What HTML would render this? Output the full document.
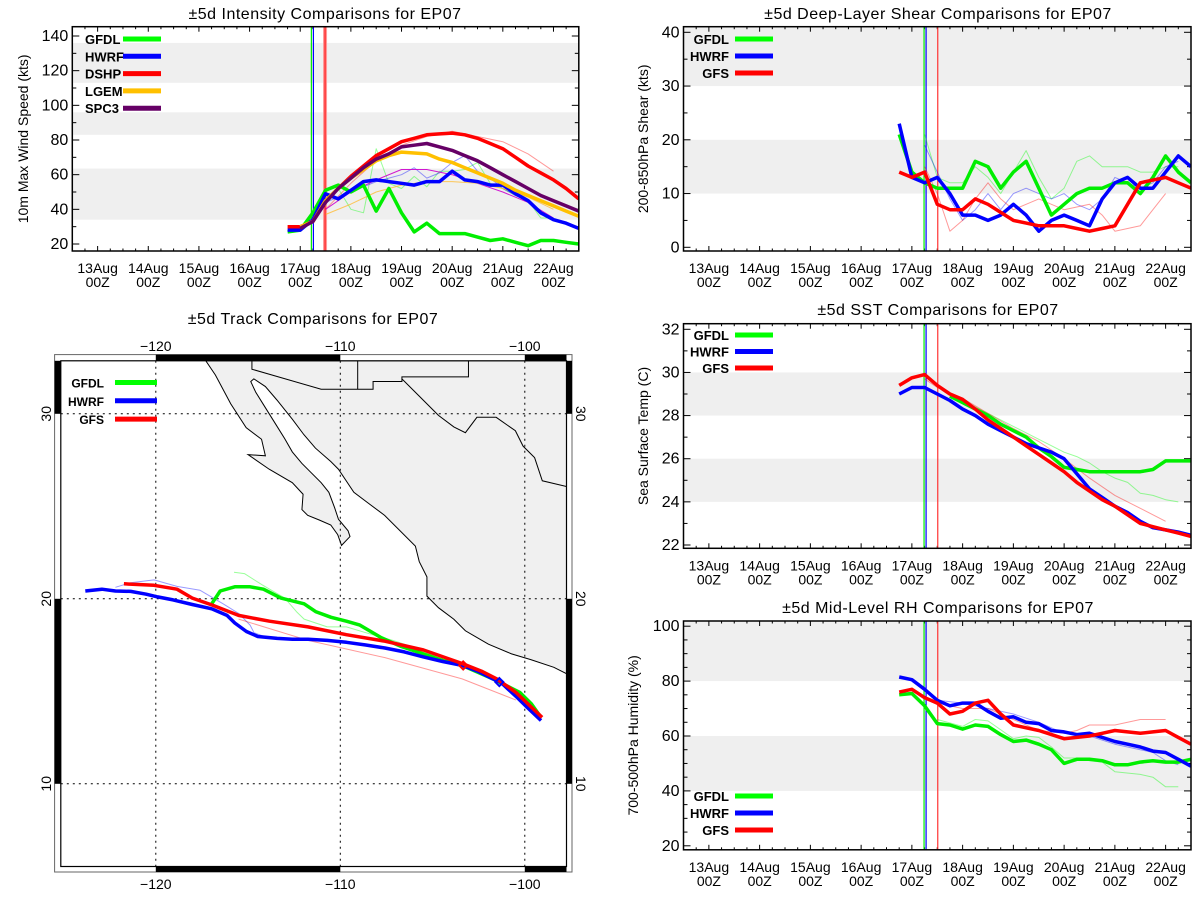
<!DOCTYPE html>
<html><head><meta charset="utf-8">
<style>
html,body{margin:0;padding:0;background:#fff;}
svg{display:block;font-family:"Liberation Sans",sans-serif;}
</style></head>
<body>
<svg id="fig" width="1200" height="900" viewBox="0 0 1200 900" xmlns="http://www.w3.org/2000/svg">
<rect width="1200" height="900" fill="#fff"/>
</svg>
<script>
// ---------- shared time axis ----------
const dayTicks = [13,14,15,16,17,18,19,20,21,22];
const dayLabels = ["13Aug","14Aug","15Aug","16Aug","17Aug","18Aug","19Aug","20Aug","21Aug","22Aug"];
const T = [16.75,17,17.25,17.5,17.75,18,18.25,18.5,18.75,19,19.25,19.5,19.75,20,20.25,20.5,20.75,21,21.25,21.5,21.75,22,22.25,22.5];
const T17 = [17,17.25,17.5,17.75,18,18.25,18.5,18.75,19,19.25,19.5,19.75,20,20.25,20.5,20.75,21,21.25,21.5,21.75,22,22.25,22.5];

// ---------- intensity ----------
const intGFDL = [27,28,38,51,54,50,54,39,52,38,27,32,26,26,26,24,22,23,21,19,22,22,21,20];
const intHWRF = [28,28,34,49,46,51,56,57,56,55,54,56,56,62,57,56,54,54,49,45,38,34,32,29];
const intDSHP = [30,30,33,45,52,59,65,71,75,79,81,83,83.5,84,83,81,78,75,70,65,61,57,52,46];
const intLGEM = [30,33,45,52,58,63,68,71,73,72.5,72,69,67,64,61,58,55,51,48,45,42,39,36];
const intSPC3 = [29,33,44,52,58,64,69,72,76,77,78,76,74,71,68,64,60,56,52,48,45,42,39];
const intPrevT = [17.25,17.5,17.75,18,18.25,18.5,18.75,19,19.25,19.5,19.75,20,20.25,20.5,20.75,21,21.25,21.5,21.75,22];
const intPrevGFDL = [38,45,52,40,38,75,55,52,59,53,62,62,63,67,55,52,48,45,35,35];
const intPrevHWRF = [36,44,47,50,53,56,58,60,64,58,61,67,71,62,58,52,48,45,37,35];
const intPrevDSHPT = [17.5,18,18.5,19,19.5,20,20.5,21,21.5,22];
const intPrevDSHP = [40,55,68,77,82,85,82,79,72,62];
const intPrevSPC3 = [40,50,57,63,63,60,55,50,44,35];
const intPrevLGEM = [37,43,50,54,56,56,55,52,47,40];

// ---------- shear ----------
const shrGFDL = [21,14,12,11,11,11,16,15,11,14,16,11,6,8,10,11,11,12,12,10,13,17,14,12];
const shrHWRF = [23,13,12,13,10,6,6,5,6,8,6,3,5,6,5,4,9,12,13,11,11,14,17,15];
const shrGFS = [14,13,14,8,7,7,9,8,6.5,5,4.5,4,4,4,3.5,3,3.5,4,8,12,12.5,13,12,11];
const shrPrevT = [17.25,17.5,17.75,18,18.25,18.5,18.75,19,19.25,19.5,19.75,20,20.25,20.5,20.75,21,21.25,21.5,21.75,22,22.25];
const shrPrevGFDL = [21,13,12,12,15,13,10,14,18,13,9,11,16,17,15,15,15,14,14,15,15];
const shrPrevHWRF = [19,14,9,5,7,10,7,10,11,10,9,10,8,7,9,13,12,11,12,15,16];
const shrPrevGFS = [15,10,3,5,9,12,9,7,8,9,8,7,7.5,8,6,3,3.5,4,7,10,null];

// ---------- SST ----------
const sstGFS = [29.4,29.75,29.9,29.4,29.0,28.75,28.3,27.8,27.4,27.0,26.6,26.2,25.8,25.4,24.9,24.5,24.1,23.8,23.4,23.0,22.85,22.7,22.55,22.4];
const sstHWRF = [29.0,29.3,29.3,29.0,28.7,28.3,28.0,27.6,27.3,27.0,26.7,26.5,26.3,26.0,25.3,24.6,24.2,23.8,23.5,23.1,22.8,22.7,22.6,22.45];
const sstGFDLT = [17.75,18,18.25,18.5,18.75,19,19.25,19.5,19.75,20,20.25,20.5,20.75,21,21.25,21.5,21.75,22,22.25,22.5];
const sstGFDL = [28.9,28.6,28.3,28.0,27.6,27.3,27.0,26.5,26.1,25.6,25.5,25.4,25.4,25.4,25.4,25.4,25.5,25.9,25.9,25.9];
const sstPrevT = [17.5,18,18.5,19,19.5,20,20.25,20.5,20.75,21,21.25,21.5,21.75,22,22.25];
const sstPrevGFDL = [29.4,28.7,28.1,27.5,26.9,26.3,26.1,25.8,25.4,25.1,24.9,24.4,24.3,24.1,24.0];
const sstPrevGFST = [17.25,17.5,18,18.5,19,19.5,20,20.5,21,21.5,22];
const sstPrevGFS = [29.7,29.3,28.8,28.1,27.4,26.8,26.0,25.1,24.3,23.7,23.1];

// ---------- RH ----------
const rhGFDL = [75,75.5,71,64.5,64,62.5,64,63.5,60.5,58,58.5,57,55,50,51.5,51.5,51,49.5,49.5,50.5,51,50.5,50.5,51.5];
const rhHWRF = [81.5,80.5,77,73,71,72,72,69,66.5,67,65,64.5,62,61.5,60.5,61,59.5,58,57,56,54.5,54,51.5,49];
const rhGFS = [76,77,74,72,68,69,72,73,68,64,63,62,60.5,59,59.5,60,61,62,61.5,61,61.5,62,59.5,57];
const rhPrevT = [17.5,18,18.25,18.5,19,19.25,19.5,19.75,20,20.25,20.5,20.75,21,21.5,21.75,22,22.25];
const rhPrevGFDL = [66,63.5,66,65.5,59,60,59.5,56,52,52,51,50.5,47,46,45,41.5,41.5];
const rhPrevGFST = [17.5,18,18.5,19,19.5,20,20.25,20.5,21,21.5,22];
const rhPrevGFS = [72,70,70,66,62,61,62,64,64,66,66];
const rhPrevHWRFT = [17.5,18,18.5,19,19.5,20,20.5,21,21.5,21.75,22,22.25];
const rhPrevHWRF = [73,72,70,68,65,61,60,57,55,54,51,49.5];

// ---------- tracks (lon, lat) ----------
const trkHWRFLon = [-123.82,-122.92,-122.19,-121.36,-120.52,-119.90,-119.06,-118.02,-116.97,-116.14,-115.72,-115.09,-114.47,-113.42,-112.59,-111.75,-110.71,-109.67,-108.62,-107.58,-106.53,-105.49,-104.45,-103.40,-102.57,-101.73,-101.32,-100.48,-99.85,-99.12];
const trkHWRFLat = [20.42,20.52,20.42,20.40,20.25,20.10,19.94,19.69,19.46,19.10,18.69,18.23,17.96,17.86,17.81,17.81,17.75,17.65,17.50,17.34,17.13,16.86,16.61,16.40,16.09,15.67,15.50,14.73,14.11,13.42];
const trkGFSLon = [-121.73,-120.10,-118.85,-118.02,-116.97,-115.51,-113.84,-111.75,-109.67,-107.58,-105.49,-103.40,-102.36,-101.52,-100.48,-99.06];
const trkGFSLat = [20.81,20.73,20.52,20.04,19.67,19.10,18.79,18.48,18.06,17.71,17.23,16.50,16.09,15.67,14.94,13.59];
const trkGFDLLon = [-116.97,-116.51,-115.72,-114.89,-114.16,-113.22,-111.96,-111.34,-110.50,-109.67,-108.94,-107.79,-106.74,-105.49,-104.45,-103.40,-101.73,-100.27,-99.64,-99.12];
const trkGFDLLat = [19.73,20.42,20.65,20.65,20.52,20.04,19.73,19.31,19.00,18.79,18.58,17.90,17.44,17.02,16.67,16.40,15.67,14.94,14.32,13.59];
const trkPrevGFDLLon = [-115.76,-115.20,-114.26,-113.01,-112.38,-111.96,-110.71,-109.67,-108.62,-107.16,-105.91,-104.87];
const trkPrevGFDLLat = [21.44,21.36,20.77,20.04,19.31,18.90,18.48,18.48,18.17,17.75,17.34,16.92];
const trkPrevHWRFLon = [-122.19,-121.36,-120.10,-118.85,-117.60,-116.35,-115.51,-114.89,-114.68,-113.84,-111.75];
const trkPrevHWRFLat = [20.62,20.87,21.02,20.67,20.46,19.73,19.21,18.58,18.17,17.86,17.86];
const trkPrevGFSLon = [-115.51,-111.75,-107.58,-103.40,-100.48];
const trkPrevGFSLat = [18.90,17.75,16.82,15.67,14.53];

const NS = "http://www.w3.org/2000/svg";
const fig = document.getElementById("fig");
function el(tag, attrs, parent){
  const e = document.createElementNS(NS, tag);
  for (const k in attrs) e.setAttribute(k, attrs[k]);
  (parent||fig).appendChild(e);
  return e;
}
function txt(s, attrs, parent){ const e = el("text", attrs, parent); e.textContent = s; return e; }

function chart(c){
  const g = el("g", {});
  
  
  const xs = d => c.x0 + (d - 12.5) / 10 * (c.x1 - c.x0);
  const ys = v => c.py0 - (v - c.v0) * c.ppu;
  c.bands.forEach(b => {
    const top = Math.max(ys(b[1]), c.y0), bot = Math.min(ys(b[0]), c.y1);
    const r = el("rect", {x:c.x0, y:top, width:c.x1-c.x0, height:bot-top, fill:"#efefef"}, g);
    
    
  });
  for (let d = 12.5; d <= 22.5001; d += 0.25){
    const major = Math.abs(d - Math.round(d)) < 1e-6;
    const L = major ? 5 : 2.5;
    el("line", {x1:xs(d), x2:xs(d), y1:c.y1, y2:c.y1-L, stroke:"#000", "stroke-width":1}, g);
    el("line", {x1:xs(d), x2:xs(d), y1:c.y0, y2:c.y0+L, stroke:"#000", "stroke-width":1}, g);
  }
  dayTicks.forEach((d,i) => {
    const a = txt(dayLabels[i], {x:xs(d), y:c.y1+22, "text-anchor":"middle", "font-size":14}, g);
    
    
    txt("00Z", {x:xs(d), y:c.y1+36, "text-anchor":"middle", "font-size":14}, g);
  });
  for (let v = c.tmin; v <= c.tmax + 1e-6; v += c.minor){
    const major = Math.abs(((v - c.tmin) / c.major) - Math.round((v - c.tmin) / c.major)) < 1e-6;
    const L = major ? 7 : 4;
    const yy = ys(v);
    if (yy < c.y0 - 0.5 || yy > c.y1 + 0.5) continue;
    el("line", {x1:c.x0, x2:c.x0+L, y1:yy, y2:yy, stroke:"#000"}, g);
    el("line", {x1:c.x1, x2:c.x1-L, y1:yy, y2:yy, stroke:"#000"}, g);
    if (major){
      const a = txt(String(v), {x:c.x0-4, y:yy+5, "text-anchor":"end", "font-size":16}, g);
      
      
    }
  }
  c.vlines.forEach(v => {
    el("line", {x1:xs(v[0]), x2:xs(v[0]), y1:c.y0, y2:c.y1, stroke:v[1], "stroke-width":v[2], opacity:v[3]}, g);
  });
  const sg = el("g", {"clip-path":"url(#clip-"+c.name+")"}, g);
  const cp = el("clipPath", {id:"clip-"+c.name}, g);
  el("rect", {x:c.x0, y:c.y0, width:c.x1-c.x0, height:c.y1-c.y0}, cp);
  c.series.forEach(s => {
    let d = "";
    s.t.forEach((t,i) => { if (s.v[i] == null) return; d += (d ? "L" : "M") + xs(t).toFixed(1) + "," + ys(s.v[i]).toFixed(1); });
    const p = el("path", {d:d, fill:"none", stroke:s.c, "stroke-width":s.w, opacity:s.o||1, "stroke-linejoin":"round"}, sg);
    
    
  });
  el("rect", {x:c.x0, y:c.y0, width:c.x1-c.x0, height:c.y1-c.y0, fill:"none", stroke:"#000", "stroke-width":1.5}, g);
  const tt = txt(c.title, {x:c.tx, y:c.ty, "text-anchor":"middle", "font-size":16, "letter-spacing":"0.5"}, g);
  
  
  const yt = txt(c.ytitle, {x:0, y:0, "text-anchor":"middle", "font-size":14, transform:"translate("+c.ytx+","+((c.y0+c.y1)/2)+") rotate(-90)"}, g);
  
  
  c.legend.forEach((L,i) => {
    const y = c.ly + i * c.ldy;
    const lt = txt(L[0], {x:c.lx, y:y+5, "text-anchor":c.lanchor, "font-size":13, "font-weight":"bold"}, g);
    
    
    el("line", {x1:c.lx1, x2:c.lx2, y1:y, y2:y, stroke:L[1], "stroke-width":5}, g);
  });
}

const thinO = 0.4;
chart({name:"intensity-chart", x0:72.3, x1:578.8, y0:26.7, y1:251, py0:244, v0:20, ppu:208/120,
  tmin:20, tmax:140, major:20, minor:10,
  bands:[[34,63.5],[83,96],[113,136]],
  vlines:[[17.49,"#ff9999",4,1],[17.49,"#ff0000",1,1],[17.22,"#00ee00",1.2,1],[17.26,"#0000ff",1.2,1]],
  series:[
    {t:intPrevT,v:intPrevGFDL,c:"#00ff00",w:1,o:thinO,n:"gfdl-prev-line"},
    {t:intPrevT,v:intPrevHWRF,c:"#0000ff",w:1,o:thinO,n:"hwrf-prev-line"},
    {t:intPrevDSHPT,v:intPrevDSHP,c:"#ff0000",w:1,o:thinO,n:"dshp-prev-line"},
    {t:intPrevDSHPT,v:intPrevSPC3,c:"#cc00cc",w:1,o:0.9,n:"spc3-prev-line"},
    {t:intPrevDSHPT,v:intPrevLGEM,c:"#ffbb33",w:1,o:0.8,n:"lgem-prev-line"},
    {t:T,v:intGFDL,c:"#00ee00",w:3.5,n:"gfdl-line"},
    {t:T,v:intHWRF,c:"#0000ff",w:3.5,n:"hwrf-line"},
    {t:T,v:intDSHP,c:"#ff0000",w:3.5,n:"dshp-line"},
    {t:T17,v:intLGEM,c:"#ffc000",w:3.5,n:"lgem-line"},
    {t:T17,v:intSPC3,c:"#660066",w:3.5,n:"spc3-line"}],
  title:"±5d Intensity Comparisons for EP07", tx:325, ty:19,
  ytitle:"10m Max Wind Speed (kts)", ytx:28,
  legend:[["GFDL","#00ff00"],["HWRF","#0000ff"],["DSHP","#ff0000"],["LGEM","#ffc000"],["SPC3","#660066"]],
  lx:85, lanchor:"start", lx1:123, lx2:161, ly:39, ldy:17.3});

chart({name:"shear-chart", x0:683.5, x1:1191, y0:26.7, y1:251, py0:247.3, v0:0, ppu:5.375,
  tmin:0, tmax:40, major:10, minor:5,
  bands:[[10,20],[30,42]],
  vlines:[[17.51,"#ff3333",1.2,1],[17.24,"#00ee00",1.2,1],[17.28,"#0000ff",1.2,1]],
  series:[
    {t:shrPrevT,v:shrPrevGFDL,c:"#00ff00",w:1,o:thinO,n:"gfdl-prev-line"},
    {t:shrPrevT,v:shrPrevHWRF,c:"#0000ff",w:1,o:thinO,n:"hwrf-prev-line"},
    {t:shrPrevT,v:shrPrevGFS,c:"#ff0000",w:1,o:thinO,n:"gfs-prev-line"},
    {t:T,v:shrGFDL,c:"#00ee00",w:3.5,n:"gfdl-line"},
    {t:T,v:shrHWRF,c:"#0000ff",w:3.5,n:"hwrf-line"},
    {t:T,v:shrGFS,c:"#ff0000",w:3.5,n:"gfs-line"}],
  title:"±5d Deep-Layer Shear Comparisons for EP07", tx:938, ty:19,
  ytitle:"200-850hPa Shear (kts)", ytx:648,
  legend:[["GFDL","#00ff00"],["HWRF","#0000ff"],["GFS","#ff0000"]],
  lx:729, lanchor:"end", lx1:735, lx2:773, ly:39, ldy:17});

chart({name:"sst-chart", x0:683.5, x1:1191, y0:323.7, y1:548.3, py0:545, v0:22, ppu:21.57,
  tmin:22, tmax:32, major:2, minor:1,
  bands:[[24,26],[28,30]],
  vlines:[[17.51,"#ff3333",1.2,1],[17.24,"#00ee00",1.2,1],[17.28,"#0000ff",1.2,1]],
  series:[
    {t:sstPrevT,v:sstPrevGFDL,c:"#00ff00",w:1,o:thinO,n:"gfdl-prev-line"},
    {t:sstPrevGFST,v:sstPrevGFS,c:"#ff0000",w:1,o:thinO,n:"gfs-prev-line"},
    {t:sstGFDLT,v:sstGFDL,c:"#00ee00",w:3.5,n:"gfdl-line"},
    {t:T,v:sstHWRF,c:"#0000ff",w:3.5,n:"hwrf-line"},
    {t:T,v:sstGFS,c:"#ff0000",w:3.5,n:"gfs-line"}],
  title:"±5d SST Comparisons for EP07", tx:938, ty:315,
  ytitle:"Sea Surface Temp (C)", ytx:648,
  legend:[["GFDL","#00ff00"],["HWRF","#0000ff"],["GFS","#ff0000"]],
  lx:729, lanchor:"end", lx1:735, lx2:773, ly:335, ldy:16.5});

chart({name:"rh-chart", x0:683.5, x1:1191, y0:621, y1:849.8, py0:845.8, v0:20, ppu:2.745,
  tmin:20, tmax:100, major:20, minor:5,
  bands:[[40,60],[80,102]],
  vlines:[[17.51,"#ff3333",1.2,1],[17.24,"#00ee00",1.2,1],[17.28,"#0000ff",1.2,1]],
  series:[
    {t:rhPrevT,v:rhPrevGFDL,c:"#00ff00",w:1,o:thinO,n:"gfdl-prev-line"},
    {t:rhPrevHWRFT,v:rhPrevHWRF,c:"#0000ff",w:1,o:thinO,n:"hwrf-prev-line"},
    {t:rhPrevGFST,v:rhPrevGFS,c:"#ff0000",w:1,o:thinO,n:"gfs-prev-line"},
    {t:T,v:rhGFDL,c:"#00ee00",w:3.5,n:"gfdl-line"},
    {t:T,v:rhHWRF,c:"#0000ff",w:3.5,n:"hwrf-line"},
    {t:T,v:rhGFS,c:"#ff0000",w:3.5,n:"gfs-line"}],
  title:"±5d Mid-Level RH Comparisons for EP07", tx:938, ty:613,
  ytitle:"700-500hPa Humidity (%)", ytx:638,
  legend:[["GFDL","#00ff00"],["HWRF","#0000ff"],["GFS","#ff0000"]],
  lx:729, lanchor:"end", lx1:735, lx2:773, ly:796, ldy:17});

(function(){
  const mx0 = 60.8, mx1 = 566.5, my0 = 360.8, my1 = 866.5;
  const lonS = lon => 155.8 + (lon + 120) * 18.45;
  const latS = lat => 598.8 - (lat - 20) * 18.5;
  const g = el("g", {});
  
  
  el("rect", {x:54.6, y:354.6, width:572-54.6, height:872-354.6, fill:"#fff", stroke:"#666", "stroke-width":1}, g);
  const cp = el("clipPath", {id:"clip-map"}, g);
  el("rect", {x:mx0, y:my0, width:mx1-mx0, height:my1-my0}, cp);
  const mg = el("g", {"clip-path":"url(#clip-map)"}, g);
  const land = el("g", {transform:"translate(0,300) scale(0.384615)"}, mg);
  const lp = el("path", {d:"M535,158 L1480,158 L1480,975 L1440,955 L1380,935 L1330,920 L1270,895 L1210,860 L1180,830 L1140,800 L1110,770 L1110,720 L1090,680 L1080,640 L1040,600 L1000,560 L960,530 L920,500 L900,470 L880,440 L860,420 L820,385 L790,350 L760,310 L720,260 L690,225 L660,205 L652,212 L665,240 L690,280 L715,320 L740,360 L760,395 L785,425 L810,450 L835,475 L855,500 L870,540 L880,570 L905,600 L910,615 L888,638 L878,610 L860,585 L830,572 L800,560 L785,545 L788,505 L760,475 L700,440 L645,402 L690,405 L680,362 L640,332 L600,270 L560,195 Z", fill:"#f0f0f0", stroke:"#000", "stroke-width":2.6}, land);
  
  
  el("path", {d:"M655,158 L655,180 L835,232 L970,232 L970,212 L1045,212 L1045,200 L1218,200 L1218,158 M930,158 L930,232 M1045,205 L1090,250 L1140,300 L1180,330 L1210,345 L1240,305 L1290,305 L1340,340 L1360,380 L1390,410 L1410,470 L1473,485", fill:"none", stroke:"#000", "stroke-width":2.6}, land);
  el("path", {d:"M1473,160 L1473,980", stroke:"#000", "stroke-width":2.6}, land);
  [-120,-110,-100].forEach(lon => el("line", {x1:lonS(lon), x2:lonS(lon), y1:my0, y2:my1, stroke:"#000", "stroke-dasharray":"2,4", "stroke-width":1}, mg));
  [10,20,30].forEach(lat => el("line", {x1:mx0, x2:mx1, y1:latS(lat), y2:latS(lat), stroke:"#000", "stroke-dasharray":"2,4", "stroke-width":1}, mg));
  const tracks = [
    [trkPrevGFDLLon,trkPrevGFDLLat,"#00ff00",1,thinO,"gfdl-prev-track"],
    [trkPrevHWRFLon,trkPrevHWRFLat,"#0000ff",1,thinO,"hwrf-prev-track"],
    [trkPrevGFSLon,trkPrevGFSLat,"#ff0000",1,thinO,"gfs-prev-track"],
    [trkGFDLLon,trkGFDLLat,"#00ee00",3.5,1,"gfdl-track"],
    [trkHWRFLon,trkHWRFLat,"#0000ff",3.5,1,"hwrf-track"],
    [trkGFSLon,trkGFSLat,"#ff0000",3.5,1,"gfs-track"]];
  tracks.forEach(t => {
    let d = "";
    t[0].forEach((lon,i) => { d += (i ? "L" : "M") + lonS(lon).toFixed(1) + "," + latS(t[1][i]).toFixed(1); });
    const p = el("path", {d:d, fill:"none", stroke:t[2], "stroke-width":t[3], opacity:t[4], "stroke-linejoin":"round"}, mg);
    
    
  });
  const mk = (lon,lat,c) => { const x=lonS(lon), y=latS(lat);
    el("path", {d:`M${x},${y-4}L${x+4},${y}L${x},${y+4}L${x-4},${y}Z`, fill:"none", stroke:c, "stroke-width":2}, mg); };
  mk(-103.34,16.40,"#ff0000"); mk(-101.38,15.50,"#0000ff");
  const bar = (x,y,w,h) => el("rect", {x:x, y:y, width:w, height:h, fill:"#000"}, g);
  bar(lonS(-120), 354.6, lonS(-110)-lonS(-120), 6.2); bar(lonS(-100), 354.6, mx1-lonS(-100), 6.2);
  bar(lonS(-120), my1, lonS(-110)-lonS(-120), 5.5); bar(lonS(-100), my1, mx1-lonS(-100), 5.5);
  bar(54.6, my0, 6.2, latS(30)-my0); bar(54.6, latS(20), 6.2, latS(10)-latS(20));
  bar(mx1, my0, 5.5, latS(30)-my0); bar(mx1, latS(20), 5.5, latS(10)-latS(20));
  el("rect", {x:mx0, y:my0, width:mx1-mx0, height:my1-my0, fill:"none", stroke:"#000", "stroke-width":1.2}, g);
  [-120,-110,-100].forEach(lon => {
    txt("−"+Math.abs(lon), {x:lonS(lon), y:351, "text-anchor":"middle", "font-size":14}, g);
    txt("−"+Math.abs(lon), {x:lonS(lon), y:889, "text-anchor":"middle", "font-size":14}, g);
  });
  [10,20,30].forEach(lat => {
    txt(String(lat), {x:0, y:0, "text-anchor":"middle", "font-size":14, transform:`translate(51,${latS(lat)}) rotate(-90)`}, g);
    txt(String(lat), {x:0, y:0, "text-anchor":"middle", "font-size":14, transform:`translate(576,${latS(lat)}) rotate(90)`}, g);
  });
  const t = txt("±5d Track Comparisons for EP07", {x:313, y:324, "text-anchor":"middle", "font-size":16, "letter-spacing":"0.5"}, g);
  
  
  [["GFDL","#00ff00"],["HWRF","#0000ff"],["GFS","#ff0000"]].forEach((L,i) => {
    const y = 382.5 + i * 18.3;
    const lt = txt(L[0], {x:104, y:y+5, "text-anchor":"end", "font-size":12, "font-weight":"bold"}, g);
    
    
    el("line", {x1:115, x2:157, y1:y, y2:y, stroke:L[1], "stroke-width":5}, g);
  });
})();
</script>
</body></html>
